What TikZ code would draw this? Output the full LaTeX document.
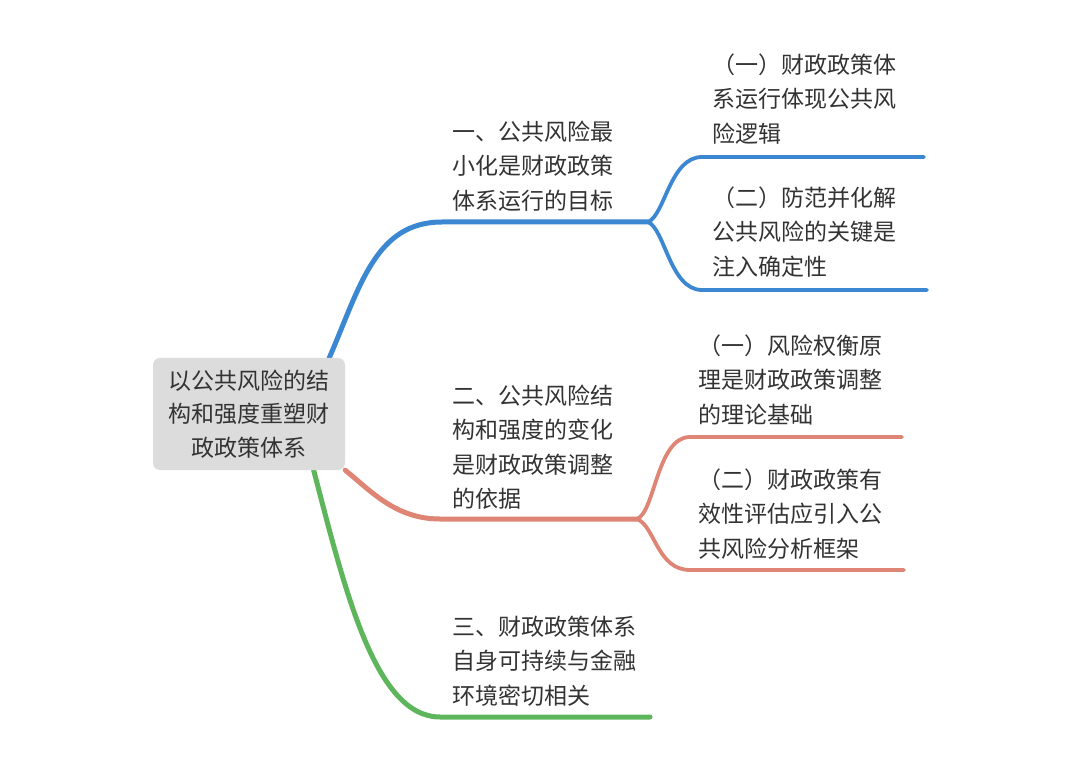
\documentclass[tikz,border=0pt]{standalone}
\usepackage{fontspec}
\newfontfamily\cjk{Noto Sans CJK SC}
\usetikzlibrary{backgrounds}
\definecolor{cblue}{HTML}{3C87D2}
\definecolor{cred}{HTML}{DE8575}
\definecolor{cgreen}{HTML}{5DB65B}
\definecolor{rootfill}{HTML}{DCDCDC}
\definecolor{tcol}{HTML}{333333}
\tikzset{
  txt/.style={font=\cjk\fontsize{23}{34.3}\selectfont, text=tcol, inner sep=0pt,
    anchor=base west, align=left, text width=220pt},
  mainline/.style={line width=5pt, line cap=round},
  subline/.style={line width=3.8pt, line cap=round},
}
\begin{document}
\begin{tikzpicture}[x=1pt,y=-1pt]
\useasboundingbox (0,0) rectangle (1080,762);

% root
\node[fill=rootfill, rounded corners=7pt, minimum width=192pt, minimum height=112pt,
      inner sep=0pt, font=\cjk\fontsize{23}{33.5}\selectfont, text=tcol, align=center]
  (root) at (249,414) {以公共风险的结\\构和强度重塑财\\政政策体系};

% texts
\node[txt] (t1)  at (452,140.6) {一、公共风险最\\小化是财政政策\\体系运行的目标};
\node[txt] (t11) at (712,73.6)  {（一）财政政策体\\系运行体现公共风\\险逻辑};
\node[txt] (t12) at (712,206.6) {（二）防范并化解\\公共风险的关键是\\注入确定性};
\node[txt] (t2)  at (452,404.6) {二、公共风险结\\构和强度的变化\\是财政政策调整\\的依据};
\node[txt] (t21) at (698,354.6) {（一）风险权衡原\\理是财政政策调整\\的理论基础};
\node[txt] (t22) at (698,488.6) {（二）财政政策有\\效性评估应引入公\\共风险分析框架};
\node[txt] (t3)  at (452,635.6) {三、财政政策体系\\自身可持续与金融\\环境密切相关};

% junction / end coordinates
\coordinate (b1S) at (442,222);
\coordinate (b1J) at (648,222);
\coordinate (b11S) at (702,157);
\coordinate (b11E) at (924,157);
\coordinate (b12S) at (702,290);
\coordinate (b12E) at (927,290);
\coordinate (b2S) at (440,519);
\coordinate (b2J) at (637,519);
\coordinate (b21S) at (690,437);
\coordinate (b21E) at (902,437);
\coordinate (b22S) at (690,570);
\coordinate (b22E) at (904,570);
\coordinate (b3S) at (440,717);
\coordinate (b3E) at (650,717);

\begin{scope}[on background layer]
\fill[white] (0,0) rectangle (1080,762);
% blue
\draw[cblue, mainline] (root.35) .. controls (360,287) and (375,222) .. (b1S) -- (b1J);
\draw[cblue, subline] (b1J) .. controls (665,215) and (670,157) .. (b11S) -- (b11E);
\draw[cblue, subline] (b1J) .. controls (665,229) and (670,290) .. (b12S) -- (b12E);
% red
\draw[cred, mainline] (root.south east) .. controls (370,490) and (395,519) .. (b2S) -- (b2J);
\draw[cred, subline] (b2J) .. controls (655,512) and (657,437) .. (b21S) -- (b21E);
\draw[cred, subline] (b2J) .. controls (655,526) and (657,570) .. (b22S) -- (b22E);
% green
\draw[cgreen, mainline] (root.-41) .. controls (345,590) and (375,717) .. (b3S) -- (b3E);
\end{scope}
\end{tikzpicture}
\end{document}
